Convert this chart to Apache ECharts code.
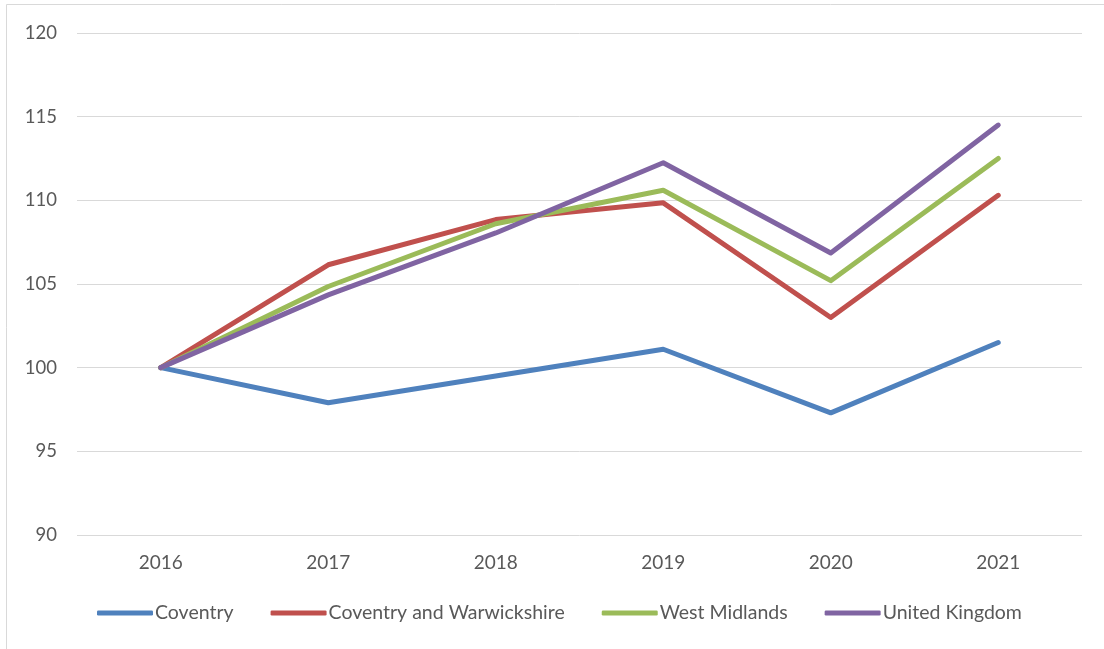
<!DOCTYPE html>
<html>
<head>
<meta charset="utf-8">
<script src="https://cdn.jsdelivr.net/npm/echarts@6/dist/echarts.min.js"></script>
<style>
  html, body { margin: 0; padding: 0; background: #fff; }
  #chart { width: 1104px; height: 649px; }
</style>
</head>
<body>
<div id="chart"></div>
<script>
// years on the x axis
var years = ['2016', '2017', '2018', '2019', '2020', '2021']
// index values, 2016 = 100
var coventry = [100, 97.9, 99.5, 101.1, 97.3, 101.5]
var covWarks = [100, 106.15, 108.85, 109.85, 103.0, 110.3]
var westMidlands = [100, 104.85, 108.6, 110.6, 105.2, 112.5]
var unitedKingdom = [100, 104.35, 108.05, 112.25, 106.85, 114.5]

var seriesNames = ['Coventry', 'Coventry and Warwickshire', 'West Midlands', 'United Kingdom']
var seriesColors = ['#4f81bd', '#c0504d', '#9bbb59', '#8064a2']
var seriesData = [coventry, covWarks, westMidlands, unitedKingdom]

var fontFamily = 'Lato, "Open Sans", sans-serif'
var textColor = '#595959'

var chart = echarts.init(document.getElementById('chart'))

var series = []
for (var i = 0; i < seriesNames.length; i++) {
  series.push({
    name: seriesNames[i],
    type: 'line',
    data: seriesData[i],
    symbol: 'none',
    color: seriesColors[i],
    lineStyle: { width: 5, color: seriesColors[i], cap: 'round', join: 'round' },
    animation: false
  })
}

chart.setOption({
  backgroundColor: '#fff',
  textStyle: { fontFamily: fontFamily },
  graphic: [{
    type: 'rect',
    shape: { x: 6.5, y: 4.5, width: 1200, height: 800 },
    style: { fill: 'none', stroke: '#d9d9d9', lineWidth: 1 },
    silent: true
  }],
  grid: { left: 77, right: 22, top: 33, bottom: 114 },
  xAxis: {
    type: 'category',
    data: years,
    boundaryGap: true,
    axisLine: { show: false },
    axisTick: { show: false },
    axisLabel: { color: textColor, fontSize: 19, margin: 18, fontFamily: fontFamily }
  },
  yAxis: {
    type: 'value',
    min: 90,
    max: 120,
    interval: 5,
    axisLine: { show: false },
    axisTick: { show: false },
    axisLabel: { color: textColor, fontSize: 18.5, margin: 20, fontFamily: fontFamily },
    splitLine: { lineStyle: { color: '#d9d9d9', width: 1 } }
  },
  legend: {
    data: seriesNames,
    bottom: 21,
    left: 92,
    icon: 'roundRect',
    itemWidth: 56,
    itemHeight: 5,
    itemGap: 37,
    textStyle: { color: textColor, fontSize: 19.5, fontFamily: fontFamily, padding: [0, 0, 0, -3] }
  },
  series: series
})
</script>
</body>
</html>
